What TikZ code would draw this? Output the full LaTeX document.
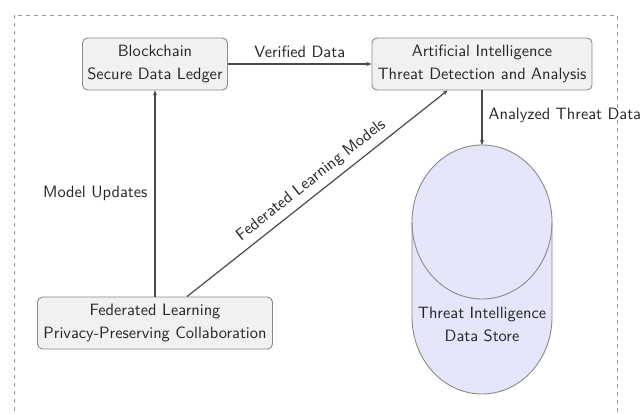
\documentclass[tikz,border=0pt]{standalone}
\usepackage{fontspec}
\usetikzlibrary{arrows.meta,calc}

% Latin Modern Sans at its 10pt design size, enlarged
\newfontfamily\diagfont{lmsans10-regular.otf}

\definecolor{boxfill}{HTML}{F1F1F1}
\definecolor{boxline}{HTML}{8A8A8A}
\definecolor{edgecol}{HTML}{4A4A4A}
\definecolor{txtcol}{HTML}{262626}
\definecolor{storefill}{HTML}{E6E6FA}
\definecolor{framecol}{HTML}{9A9A9A}

\tikzset{
  every node/.style={font=\diagfont\fontsize{16.4}{23}\selectfont, text=txtcol},
  procbox/.style={draw=boxline, fill=boxfill, line width=0.9pt,
    rounded corners=5pt, align=center, inner sep=0pt},
  flow/.style={draw=edgecol, line width=1.2pt,
    -{Stealth[length=5pt,width=4pt]}},
  lbl/.style={inner sep=6pt},
}

\begin{document}
\begin{tikzpicture}[x=1pt,y=-1pt]
  \clip (0,0) rectangle (642,414);
  \fill[white] (0,0) rectangle (642,414);

  % dashed outer frame (runs off the bottom)
  \draw[framecol, line width=0.8pt, dash pattern=on 4pt off 4pt]
    (14,15) rectangle (617,440);

  % process boxes
  \node[procbox, minimum width=145pt, minimum height=52pt] (bc) at (155,64)
    {Blockchain\\Secure Data Ledger};
  \node[procbox, minimum width=220pt, minimum height=52pt] (ai) at (482,64)
    {Artificial Intelligence\\Threat Detection and Analysis};
  \node[procbox, minimum width=235pt, minimum height=52pt] (fl) at (155,323)
    {Federated Learning\\Privacy-Preserving Collaboration};

  % threat intelligence data store (vertical cylinder)
  \path[draw=boxline, fill=storefill, line width=0.9pt]
    (412,222) -- (412,317) arc[start angle=180, end angle=0, x radius=70, y radius=77]
    -- (552,222) arc[start angle=0, end angle=-180, x radius=70, y radius=77] -- cycle;
  \draw[boxline, line width=0.9pt]
    (412,222) arc[start angle=180, end angle=0, x radius=70, y radius=77];
  \coordinate (dbtop) at (482,145);
  \node[align=center] (db) at (482,324.5) {Threat Intelligence\\Data Store};

  % connectors
  \draw[flow] (bc) -- node[lbl, above] {Verified Data} (ai);
  \draw[flow] (fl) -- node[lbl, left, inner sep=7pt] {Model Updates} (bc);
  \draw[flow] ([xshift=150pt]fl.north west) --
    node[lbl, sloped, above, pos=0.51] {Federated Learning Models}
    ([xshift=76pt]ai.south west);
  \draw[flow] (ai) -- node[lbl, right, pos=0.45] {Analyzed Threat Data} (dbtop);
\end{tikzpicture}
\end{document}
